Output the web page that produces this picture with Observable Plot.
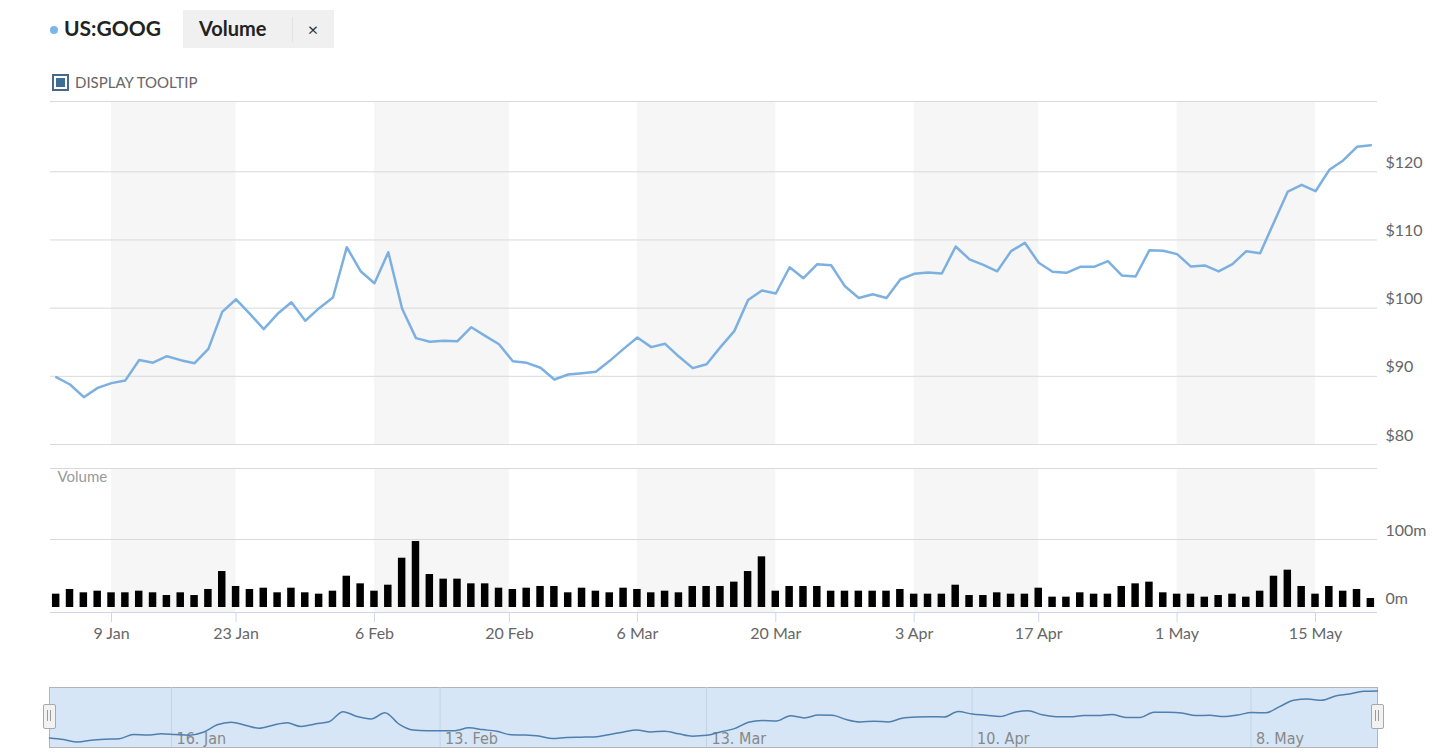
<!DOCTYPE html>
<html><head><meta charset="utf-8">
<script src="https://cdn.jsdelivr.net/npm/d3@7"></script>
<script src="https://cdn.jsdelivr.net/npm/@observablehq/plot@0.6"></script>
<style>
html,body{margin:0;padding:0;background:#fff;}
body{width:1437px;height:754px;overflow:hidden;position:relative;font-family:Lato,"DejaVu Sans",sans-serif;}
.abs{position:absolute;}
svg{overflow:visible;}
</style></head><body>
<!-- header -->
<div class="abs" style="left:50px;top:26px;width:8px;height:8px;border-radius:50%;background:#7cb5ec"></div>
<div class="abs" style="left:64px;top:18px;font:700 21px/20px Lato;color:#222">US:GOOG</div>
<div class="abs" style="left:183px;top:10px;width:151px;height:38px;background:#f0f0f0"></div>
<div class="abs" style="left:199px;top:18px;font:700 20px/20px Lato;color:#222">Volume</div>
<div class="abs" style="left:292px;top:17px;width:1px;height:25px;background:#e2e2e2"></div>
<div class="abs" style="left:303px;top:20px;width:20px;text-align:center;font:400 18px/18px Lato;color:#333">×</div>
<div class="abs" style="left:52px;top:74px;width:13px;height:13px;border:2px solid #48698a;background:#fff"></div>
<div class="abs" style="left:56px;top:78px;width:9px;height:9px;background:#3d6e98"></div>
<div class="abs" style="left:75px;top:75px;font:400 15px/15px Lato;color:#666">DISPLAY TOOLTIP</div>

<div id="price" class="abs" style="left:0;top:91px"></div>
<div id="volume" class="abs" style="left:0;top:458px"></div>
<div id="nav" class="abs" style="left:0;top:677px"></div>
<!-- navigator handles -->
<div class="abs" style="left:43px;top:704px;width:11px;height:23px;background:#f2f2f2;border:1px solid #a8a8a8;border-radius:2px"></div>
<div class="abs" style="left:47px;top:710px;width:1px;height:11px;background:#999"></div>
<div class="abs" style="left:50px;top:710px;width:1px;height:11px;background:#999"></div>
<div class="abs" style="left:1371px;top:704px;width:11px;height:23px;background:#f2f2f2;border:1px solid #a8a8a8;border-radius:2px"></div>
<div class="abs" style="left:1375px;top:710px;width:1px;height:11px;background:#999"></div>
<div class="abs" style="left:1378px;top:710px;width:1px;height:11px;background:#999"></div>

<script>
// ---- data (trading days, 3 Jan – 19 May) ----
const price = [
  89.87, 88.8, 86.94, 88.3, 89.0, 89.4, 92.4, 92.0, 92.95, 92.37,
  91.93, 94.03, 99.46, 101.3, 99.17, 96.92, 99.17, 100.87, 98.14, 100.0,
  101.56, 108.94, 105.42, 103.66, 108.2, 99.9, 95.6, 95.06, 95.2, 95.15,
  97.2, 95.94, 94.71, 92.22, 91.98, 91.25, 89.53, 90.27, 90.46, 90.66,
  92.27, 94.03, 95.7, 94.28, 94.77, 92.9, 91.2, 91.78, 94.28, 96.63,
  101.2, 102.59, 102.15, 106.0, 104.4, 106.45, 106.3, 103.2, 101.5, 102.05,
  101.5, 104.2, 105.04, 105.23, 105.08, 109.04, 107.15, 106.35, 105.4, 108.36,
  109.58, 106.65, 105.33, 105.18, 106.06, 106.06, 106.89, 104.79, 104.64, 108.5,
  108.41, 107.92, 106.1, 106.26, 105.38, 106.45, 108.36, 108.06, 112.6, 117.1,
  118.08, 117.15, 120.29, 121.66, 123.67, 123.9
];
// volume in millions
const volume = [
  19.6, 26.5, 21.6, 24, 21.6, 21.6, 24, 21.6, 17.6, 21.6,
  17.6, 26.5, 52.9, 30.9, 26.5, 28.4, 21.6, 28.4, 21.6, 19.6,
  24, 46, 34.8, 24, 32.8, 72.5, 97, 48.5, 41.7, 41.7,
  34.8, 34.8, 28.4, 26.5, 28.4, 30.9, 30.9, 21.6, 28.4, 24,
  21.6, 28.4, 26.5, 21.6, 24, 21.6, 30.9, 30.9, 30.9, 37.3,
  52.9, 74.5, 24, 30.9, 30.9, 30.9, 24, 24, 24, 24,
  24, 26.5, 19.6, 19.6, 19.6, 32.8, 17.6, 17.6, 21.6, 19.6,
  19.6, 28.4, 15.2, 15.2, 21.6, 19.6, 19.6, 30.9, 34.8, 37.3,
  21.6, 19.6, 19.6, 15.2, 17.6, 19.6, 15.2, 24, 46, 54.9,
  30.9, 19.6, 30.9, 24, 26.5, 13.2
];
// x-axis ticks (trading-day index) and labels
const tickIndex = [4, 13, 23, 32.75, 42, 52, 62, 71, 81, 91];
const tickLabels = ["9 Jan", "23 Jan", "6 Feb", "20 Feb", "6 Mar", "20 Mar", "3 Apr", "17 Apr", "1 May", "15 May"];
// alternating shaded bands between ticks
const bandStart = [4, 23, 42, 62, 81];
const bandEnd = [13, 32.75, 52, 71, 91];
const priceTicks = [80, 90, 100, 110, 120];
const volumeTicks = [0, 100];
// navigator ticks
const navTickIndex = [8.73, 27.94, 47, 66, 85.95];
const navTickLabels = ["16. Jan", "13. Feb", "13. Mar", "10. Apr", "8. May"];

// ---- build ----
const rows = price.map((p, i) => ({i, price: p, volume: volume[i]}));
const bands = bandStart.map((s, k) => ({x1: s, x2: bandEnd[k]}));
const tickMap = new Map(tickIndex.map((t, k) => [t, tickLabels[k]]));
const navMap = new Map(navTickIndex.map((t, k) => [t, navTickLabels[k]]));
const W = 1437;
const xDomain = [-0.41, 95.48];
const priceTop = 130.31;
const volTop = 204.4, volBottom = -7.35;
const baseStyle = {fontFamily: "Lato, 'DejaVu Sans', sans-serif", background: "transparent", overflow: "visible"};

const pricePlot = Plot.plot({
  width: W, height: 363, marginLeft: 50, marginRight: 60, marginTop: 10, marginBottom: 10,
  style: baseStyle,
  x: {domain: xDomain, axis: null},
  y: {domain: [80, priceTop], axis: null},
  marks: [
    Plot.rect(bands, {x1: "x1", x2: "x2", fill: "#f6f6f6"}),
    Plot.ruleY([...priceTicks, priceTop], {stroke: "#d9d9d9", strokeWidth: 1}),
    Plot.axisY({anchor: "right", label: null, ticks: priceTicks, tickSize: 0, tickPadding: 8, dy: -9,
      tickFormat: d => "$" + d, fontSize: 16, fill: "#666"}),
    Plot.line(rows, {x: "i", y: "price", stroke: "#7cb0e0", strokeWidth: 2.5, strokeLinejoin: "round"})
  ]
});
document.getElementById("price").appendChild(pricePlot);

const volPlot = Plot.plot({
  width: W, height: 194, marginLeft: 50, marginRight: 60, marginTop: 10, marginBottom: 40,
  style: baseStyle,
  x: {domain: xDomain, axis: null},
  y: {domain: [volBottom, volTop], axis: null},
  marks: [
    Plot.rect(bands, {x1: "x1", x2: "x2", fill: "#f6f6f6"}),
    Plot.ruleY([100, volTop], {stroke: "#d9d9d9"}),
    Plot.ruleY([volBottom], {stroke: "#ccd6eb"}),
    Plot.rectY(rows, {x1: d => d.i - 0.27, x2: d => d.i + 0.27, y1: 0, y2: "volume", fill: "#000"}),
    Plot.axisY({anchor: "right", label: null, ticks: volumeTicks, tickSize: 0, tickPadding: 8, dy: -9,
      tickFormat: d => d + "m", fontSize: 16, fill: "#666"}),
    Plot.axisX({anchor: "bottom", label: null, ticks: tickIndex, tickFormat: d => tickMap.get(d), tickSize: 10,
      tickPadding: 5, stroke: "#ccd6eb", fill: "#666", fontSize: 16}),
    Plot.text(["Volume"], {frameAnchor: "top-left", dx: 7, dy: 3, fill: "#999", fontSize: 15})
  ]
});
document.getElementById("volume").appendChild(volPlot);

const navPlot = Plot.plot({
  width: W, height: 77, marginLeft: 49, marginRight: 60, marginTop: 10, marginBottom: 7,
  style: baseStyle,
  x: {domain: [0, 95], axis: null},
  y: {domain: [83, 126.4], axis: null},
  marks: [
    Plot.frame({fill: "#d6e6f6", stroke: "#b4b4b4"}),
    Plot.ruleX(navTickIndex, {stroke: "#c4d3e2"}),
    Plot.text(navTickIndex, {x: d => d, text: d => navMap.get(d), frameAnchor: "bottom", lineAnchor: "bottom",
      textAnchor: "start", dx: 5, dy: -4, fill: "#888", fontSize: 16,
      fontFamily: "'DejaVu Sans Condensed', 'DejaVu Sans', sans-serif"}),
    Plot.line(rows, {x: "i", y: "price", curve: "monotone-x", stroke: "#4f7fae", strokeWidth: 1.5})
  ]
});
document.getElementById("nav").appendChild(navPlot);
</script>
</body></html>
